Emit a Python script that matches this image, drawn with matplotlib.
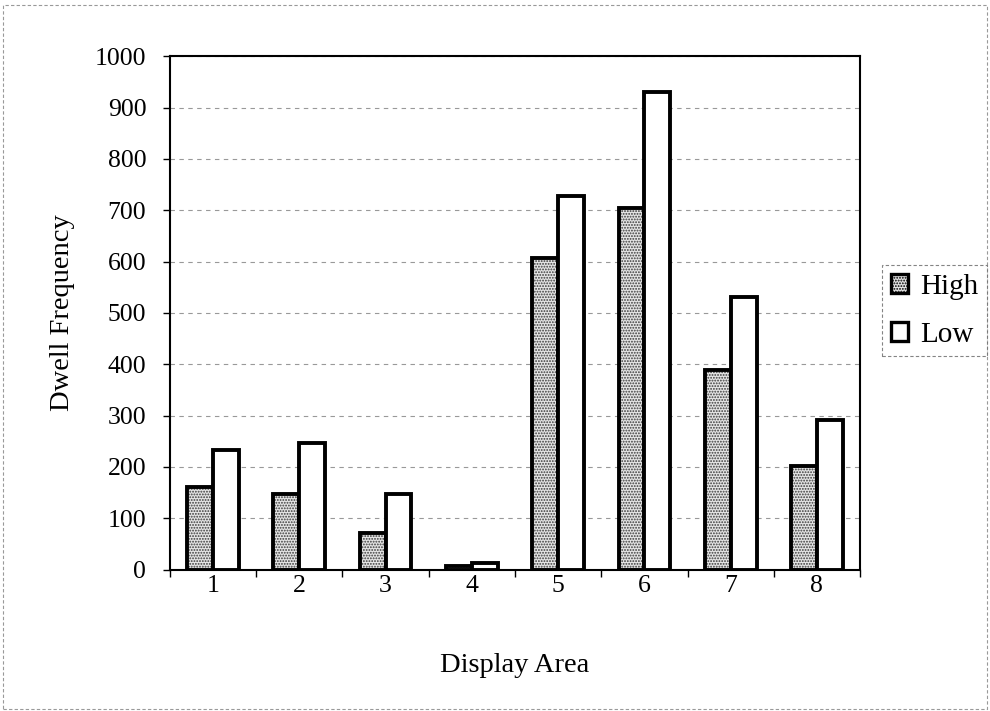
import numpy as np
import matplotlib.pyplot as plt
import matplotlib.patches as patches

plt.rcParams['font.family'] = ['Liberation Serif', 'DejaVu Serif']
plt.rcParams['hatch.linewidth'] = 0.9

# dwell counts per display area
areas = ['1', '2', '3', '4', '5', '6', '7', '8']
high = [160, 147, 71, 6, 606, 705, 389, 202]
low = [232, 247, 147, 12, 727, 930, 531, 292]

fig = plt.figure(figsize=(9.9, 7.11), dpi=100)
ax = fig.add_axes([0.1717, 0.199, 0.697, 0.722])

x = np.arange(len(areas))
w = 0.3

# stippled fill for High, then a plain black outline on top
ax.bar(x - w/2, high, w, color='#e4e4e4', hatch='......', edgecolor='#3a3a3a', linewidth=0, zorder=2)
ax.bar(x - w/2, high, w, fill=False, edgecolor='black', linewidth=2.8, zorder=3)
ax.bar(x + w/2, low, w, color='white', edgecolor='black', linewidth=2.8, zorder=3)

ax.set_xlim(-0.5, len(areas) - 0.5)
ax.set_ylim(0, 1000)
ax.set_yticks(np.arange(0, 1001, 100))
ax.set_xticks(x)
ax.set_xticklabels(areas)
ax.set_xticks(np.arange(-0.5, len(areas), 1), minor=True)
ax.tick_params(axis='x', which='major', length=0, pad=4, labelsize=18.5)
ax.tick_params(axis='x', which='minor', length=5, width=1, direction='out')
ax.tick_params(axis='y', length=5, width=1, direction='out', labelsize=18.5, pad=12)

ax.yaxis.grid(True, linestyle=(0, (4, 4)), color='#999999', linewidth=0.8, zorder=0)
ax.set_axisbelow(True)
for s in ax.spines.values():
    s.set_linewidth(1.5)
    s.set_color('black')

ax.set_ylabel('Dwell Frequency', fontsize=20.5, labelpad=14)
ax.set_xlabel('Display Area', fontsize=20.5, labelpad=40)

h1 = patches.Patch(facecolor='#e4e4e4', hatch='......', edgecolor='black', linewidth=2.4)
h2 = patches.Patch(facecolor='white', edgecolor='black', linewidth=2.4)
leg = fig.legend([h1, h2], ['High', 'Low'], loc='upper left',
                 bbox_to_anchor=(882/990, 1 - 265/711), fontsize=21,
                 frameon=True, fancybox=False, handlelength=0.6, handleheight=0.6,
                 handletextpad=0.4, borderpad=0.3, labelspacing=0.75,
                 borderaxespad=0)
leg.get_frame().set_edgecolor('#666666')
leg.get_frame().set_linewidth(0.8)
leg.get_frame().set_linestyle((0, (3, 2)))

# faint outer border of the chart area
fig.patches.append(patches.Rectangle((0.003, 0.003), 0.994, 0.99, transform=fig.transFigure,
                                     fill=False, edgecolor='#999999', linewidth=0.8,
                                     linestyle=(0, (3, 2))))

fig.savefig('out.png', dpi=100)
